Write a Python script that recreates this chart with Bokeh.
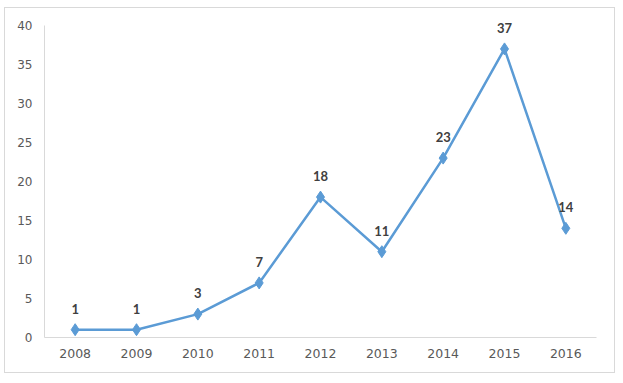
from bokeh.plotting import figure
from bokeh.models import ColumnDataSource, Range1d, FixedTicker, LabelSet, InlineStyleSheet
from bokeh.core.properties import value
from bokeh.embed import file_html
from bokeh.resources import INLINE

years = ["2008", "2009", "2010", "2011", "2012", "2013", "2014", "2015", "2016"]
counts = [1, 1, 3, 7, 18, 11, 23, 37, 14]
y_ticks = [0, 5, 10, 15, 20, 25, 30, 35, 40]

src = ColumnDataSource(dict(x=years, y=counts, label=[str(c) for c in counts]))

# 312 px for 40 units; add 12 px of head room so the top label is not clipped
y_end = 40 + 12 * 40 / 312

p = figure(x_range=years, y_range=Range1d(0, y_end), width=615, height=374,
           output_backend="svg", toolbar_location=None,
           min_border_left=44, min_border_right=19, min_border_top=13, min_border_bottom=37)
p.stylesheets = [InlineStyleSheet(css=(
    ":host { position: relative; }"
    ":host::after { content: ''; position: absolute; left: 4px; top: 7px; width: 609px; height: 364px;"
    " border: 1px solid #d9d9d9; pointer-events: none; }"))]
p.border_fill_color = None
p.background_fill_color = None
p.outline_line_color = None
p.xgrid.grid_line_color = None
p.ygrid.grid_line_color = None

p.line("x", "y", source=src, line_color="#5B9BD5", line_width=2.5)
p.scatter("x", "y", source=src, marker="diamond", size=12, fill_color="#5B9BD5", line_color="#5B9BD5")
labels = LabelSet(x="x", y="y", text="label", source=src, y_offset=21, text_align="center",
                  text_baseline="middle", text_font=value("Lato"), text_font_style="bold",
                  text_font_size="13px", text_color="#404040")
p.add_layout(labels)

for ax in (p.xaxis, p.yaxis):
    ax.axis_line_color = "#d9d9d9"
    ax.major_tick_line_color = None
    ax.minor_tick_line_color = None
    ax.major_label_text_color = "#595959"
    ax.major_label_text_font = "DejaVu Sans"
    ax.major_label_text_font_size = "12px"
p.yaxis.ticker = FixedTicker(ticks=y_ticks)
p.yaxis.bounds = (0, 40)
p.yaxis.major_label_standoff = 6
p.xaxis.major_label_standoff = 5
p.xaxis.major_label_text_font_size = "12.5px"

open("out.html", "w").write(file_html(p, INLINE))
